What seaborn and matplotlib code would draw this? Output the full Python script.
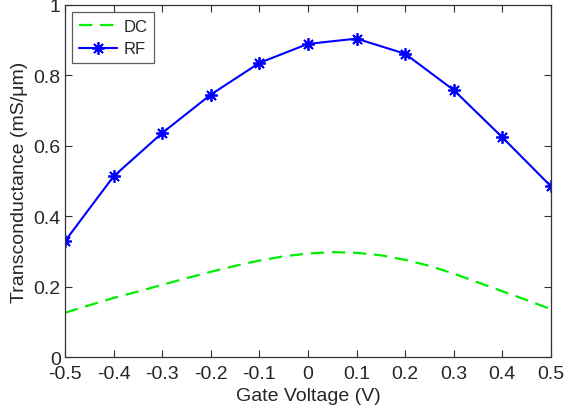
import matplotlib
matplotlib.use("Agg")
import matplotlib.pyplot as plt
import seaborn as sns
import pandas as pd

rf_voltage = [-0.5, -0.4, -0.3, -0.2, -0.1, 0.0, 0.1, 0.2, 0.3, 0.4, 0.5]
rf_values = [0.329, 0.513, 0.636, 0.745, 0.835, 0.889, 0.904, 0.861, 0.758, 0.624, 0.485]
dc_voltage = [-0.5, -0.45, -0.4, -0.35, -0.3, -0.25, -0.2, -0.15, -0.1, -0.05, 0.0,
              0.05, 0.1, 0.15, 0.2, 0.25, 0.3, 0.35, 0.4, 0.45, 0.5]
dc_values = [0.126, 0.147, 0.168, 0.186, 0.205, 0.224, 0.242, 0.259, 0.274, 0.286, 0.294,
             0.298, 0.296, 0.289, 0.276, 0.259, 0.237, 0.212, 0.187, 0.162, 0.136]
x_ticks = [-0.5, -0.4, -0.3, -0.2, -0.1, 0, 0.1, 0.2, 0.3, 0.4, 0.5]
x_tick_labels = ["-0.5", "-0.4", "-0.3", "-0.2", "-0.1", "0", "0.1", "0.2", "0.3", "0.4", "0.5"]
y_ticks = [0, 0.2, 0.4, 0.6, 0.8, 1]
y_tick_labels = ["0", "0.2", "0.4", "0.6", "0.8", "1"]

sns.set_style("ticks")
plt.rcParams['font.family'] = ['Liberation Sans', 'DejaVu Sans']

df_dc = pd.DataFrame({"V": dc_voltage, "G": dc_values})
df_rf = pd.DataFrame({"V": rf_voltage, "G": rf_values})

fig = plt.figure(figsize=(5.65, 4.14), dpi=100)
ax = fig.add_axes([0.115, 0.135, 0.86, 0.851])

sns.lineplot(data=df_dc, x="V", y="G", ax=ax, color="#00ee00",
             linewidth=1.6, label="DC")
ax.lines[-1].set_dashes([6, 3.5])
sns.lineplot(data=df_rf, x="V", y="G", ax=ax, color="#0000ff", linewidth=1.5,
             marker=(8, 2, 0), markersize=9, markeredgewidth=1.3,
             markeredgecolor="#0000ff", label="RF")

ax.set_xlim(-0.5, 0.5)
ax.set_ylim(0, 1)
ax.set_xticks(x_ticks)
ax.set_xticklabels(x_tick_labels)
ax.set_yticks(y_ticks)
ax.set_yticklabels(y_tick_labels)
ax.set_xlabel("Gate Voltage (V)", fontsize=14, labelpad=3)
ax.set_ylabel("Transconductance (mS/\u03bcm)", fontsize=14, labelpad=4)
ax.tick_params(direction="in", top=True, right=True, labelsize=14, length=5,
               width=0.8, color="#333333")
ax.tick_params(axis="x", pad=6)
ax.tick_params(axis="y", pad=3)
for s in ax.spines.values():
    s.set_visible(True)
    s.set_linewidth(0.9)
    s.set_color("#333333")

leg = ax.legend(loc="upper left", fontsize=12, frameon=True, fancybox=False,
                edgecolor="#333333", handlelength=2.3, borderpad=0.4,
                labelspacing=0.45, handletextpad=0.35, borderaxespad=0.45)
leg.get_frame().set_linewidth(0.9)

fig.savefig("out.png", dpi=100)
